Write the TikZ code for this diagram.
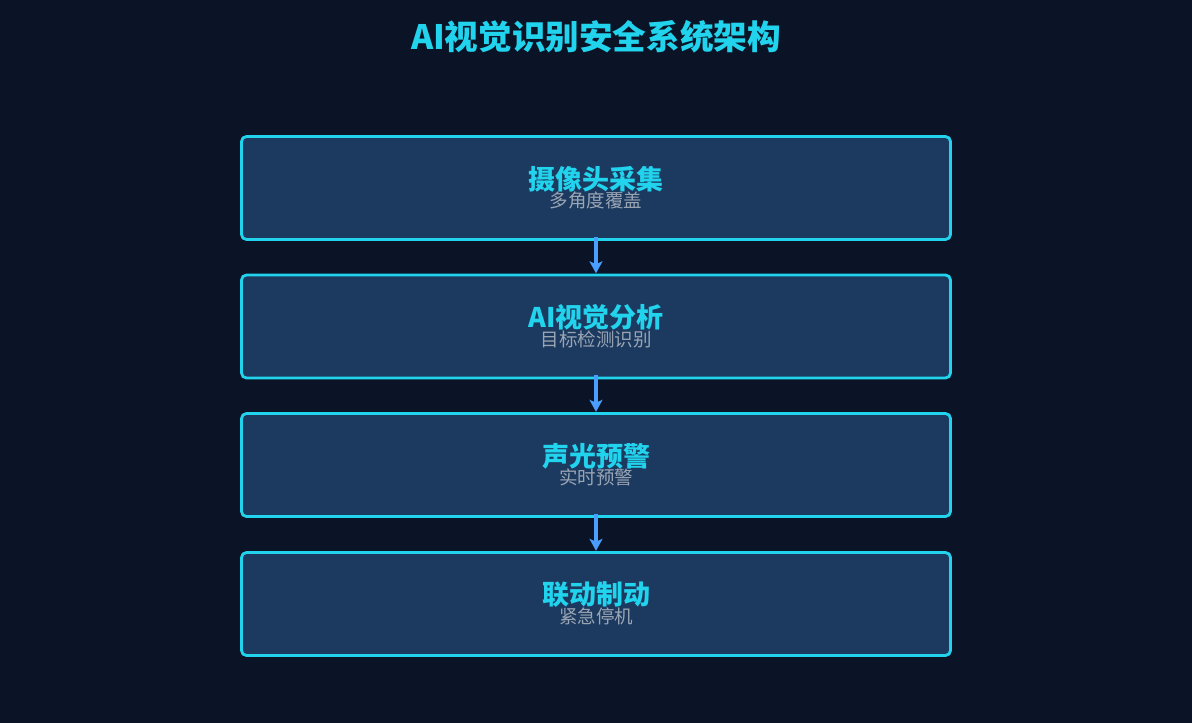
\documentclass[tikz,border=0pt]{standalone}
\usepackage{fontspec}
\newfontfamily\cjk{Noto Sans CJK SC}
\usetikzlibrary{arrows.meta}
\definecolor{bgc}{HTML}{0B1426}
\definecolor{boxfill}{HTML}{1C3A5F}
\definecolor{boxline}{HTML}{22D3EE}
\definecolor{arrowc}{HTML}{4A9EFF}
\definecolor{subc}{HTML}{9AA5B4}
\tikzset{
  stagebox/.style={draw=boxline, fill=boxfill, line width=2.8pt, rounded corners=5pt, minimum width=709pt, minimum height=103pt, inner sep=0pt},
  headtext/.style={text=boxline, font=\cjk\bfseries\fontsize{27}{30}\selectfont, inner sep=0pt},
  subtext/.style={text=subc, font=\cjk\fontsize{18.5}{20}\selectfont, inner sep=0pt},
  flow/.style={draw=arrowc, line width=3.8pt, -{Stealth[length=12pt,width=13pt,inset=3pt]}}
}
\begin{document}
\begin{tikzpicture}[x=1pt,y=-1pt]
\useasboundingbox[fill=bgc] (0,0) rectangle (1192,723);
\node[text=boxline, font=\cjk\bfseries\fontsize{33.6}{38}\selectfont, inner sep=0pt] (title) at (596,37) {AI视觉识别安全系统架构};
\node[stagebox] (b1) at (596,188) {};
\node[stagebox] (b2) at (596,326.5) {};
\node[stagebox] (b3) at (596,465) {};
\node[stagebox] (b4) at (596,604) {};
\node[headtext] (h1) at (596,179) {摄像头采集};
\node[subtext] (s1) at (596,200) {多角度覆盖};
\node[headtext] (h2) at (596,317) {AI视觉分析};
\node[subtext] (s2) at (596,339) {目标检测识别};
\node[headtext] (h3) at (596,456) {声光预警};
\node[subtext] (s3) at (596,477) {实时预警};
\node[headtext] (h4) at (596,595) {联动制动};
\node[subtext] (s4) at (596,616) {紧急停机};
\draw[flow] ([yshift=4pt]b1.south) -- ([yshift=0.3pt]b2.north);
\draw[flow] ([yshift=4pt]b2.south) -- ([yshift=0.3pt]b3.north);
\draw[flow] ([yshift=4pt]b3.south) -- ([yshift=0.3pt]b4.north);
\end{tikzpicture}
\end{document}
